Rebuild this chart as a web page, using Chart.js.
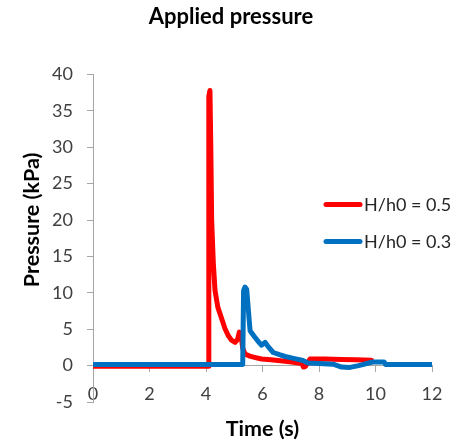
<!DOCTYPE html>
<html>
<head>
<meta charset="utf-8">
<script src="https://cdn.jsdelivr.net/npm/chart.js@4/dist/chart.umd.min.js"></script>
<style>
  html, body { margin: 0; padding: 0; background: #fff; }
  #wrap { width: 457px; height: 441px; position: relative; }
</style>
</head>
<body>
<div id="wrap"><canvas id="chart"></canvas></div>
<script>
// pressure traces, time in seconds, pressure in kPa
const redLabel = 'H/h0 = 0.5';
const redTime = [0, 4.08, 4.1, 4.14, 4.17, 4.2, 4.26, 4.32, 4.42, 4.55, 4.67, 4.79, 4.9, 5.03, 5.12, 5.18, 5.24, 5.3, 5.38, 5.55, 5.75, 5.97, 6.3, 6.8, 7.1, 7.39, 7.45, 7.52, 7.6, 7.68, 8.2, 8.8, 9.3, 9.86];
const redPressure = [-0.1, -0.1, 37.0, 37.8, 30, 20, 14, 10.3, 8, 6.5, 5.1, 4.1, 3.5, 3.2, 3.6, 4.6, 4.2, 2.4, 1.6, 1.3, 1.1, 0.9, 0.8, 0.6, 0.45, 0.3, -0.2, -0.1, 0.4, 0.9, 0.9, 0.85, 0.8, 0.75];

const blueLabel = 'H/h0 = 0.3';
const blueTime = [0, 5.3, 5.33, 5.38, 5.44, 5.5, 5.56, 5.73, 5.85, 5.97, 6.09, 6.2, 6.38, 6.6, 6.8, 7.1, 7.43, 7.6, 8.0, 8.5, 8.8, 9.1, 9.4, 9.9, 10.3, 10.36, 12];
const bluePressure = [0.15, 0.15, 10.3, 10.8, 10.5, 7.6, 4.8, 3.9, 3.3, 2.8, 3.2, 2.6, 1.8, 1.5, 1.25, 1.0, 0.7, 0.35, 0.3, 0.2, -0.2, -0.25, 0.0, 0.5, 0.5, 0.15, 0.15];

const xMin = 0, xMax = 12, xStep = 2;
const yMin = -5, yMax = 40, yStep = 5;

const FONT = 'Lato, "Open Sans", sans-serif';
const AXIS = '#a6a6a6';
const toPoints = (xs, ys) => xs.map((x, i) => ({ x, y: ys[i] }));

// legend drawn inside the plot, to the right of the traces
const insideLegend = {
  id: 'insideLegend',
  afterDraw(chart) {
    const { ctx, chartArea } = chart;
    const items = [chart.data.datasets[0], chart.data.datasets[1]];
    ctx.save();
    ctx.font = '18px ' + FONT;
    ctx.textBaseline = 'middle';
    items.forEach((ds, i) => {
      const y = chartArea.top + 130 + i * 37;
      const x0 = chartArea.left + 233;
      ctx.strokeStyle = ds.borderColor;
      ctx.lineWidth = 5;
      ctx.lineCap = 'round';
      ctx.beginPath();
      ctx.moveTo(x0, y);
      ctx.lineTo(x0 + 34, y);
      ctx.stroke();
      ctx.fillStyle = '#262626';
      ctx.fillText(ds.label, x0 + 38, y + 1);
    });
    ctx.restore();
  }
};

new Chart(document.getElementById('chart'), {
  type: 'line',
  data: {
    datasets: [
      { label: redLabel, data: toPoints(redTime, redPressure), borderColor: '#ff0000', order: 2 },
      { label: blueLabel, data: toPoints(blueTime, bluePressure), borderColor: '#0070c0', order: 1 }
    ]
  },
  options: {
    responsive: true, maintainAspectRatio: false, animation: false,
    layout: { padding: { left: 30, right: 25, top: 0, bottom: 39 } },
    elements: {
      point: { radius: 0 },
      line: { borderWidth: 5, tension: 0, borderJoinStyle: 'round', borderCapStyle: 'round', fill: false }
    },
    plugins: {
      legend: { display: false },
      tooltip: { enabled: false },
      title: {
        display: true, text: 'Applied pressure', color: '#000',
        font: { family: FONT, size: 22, weight: 'bold' },
        padding: { top: 4, bottom: 44 }
      }
    },
    scales: {
      x: {
        // axis line sits on y = 0; the title hangs below it by the box height
        type: 'linear', position: { y: 0 }, min: xMin, max: xMax,
        afterFit: s => { s.height = 76; },
        border: { display: true, color: AXIS, width: 1 },
        grid: { display: true, drawOnChartArea: false, drawTicks: true, tickLength: 6, color: AXIS },
        ticks: { stepSize: xStep, color: '#404040', padding: 12, font: { family: FONT, size: 18 } },
        title: { display: true, text: 'Time (s)', color: '#000', font: { family: FONT, size: 21.5, weight: 'bold' }, padding: 0 }
      },
      y: {
        type: 'linear', position: 'left', min: yMin, max: yMax,
        afterFit: s => { s.width = 63; s.paddingBottom = 0; },
        border: { display: true, color: AXIS, width: 1 },
        grid: { display: true, drawOnChartArea: false, drawTicks: true, tickLength: 6, color: AXIS },
        ticks: { stepSize: yStep, color: '#404040', padding: 14, font: { family: FONT, size: 18 } },
        // leading spaces lift the rotated title a little above the plot's middle
        title: { display: true, text: '       Pressure (kPa)', color: '#000', font: { family: FONT, size: 21.5, weight: 'bold' }, padding: { top: -11, bottom: 0 } }
      }
    }
  },
  plugins: [insideLegend]
});
</script>
</body>
</html>
